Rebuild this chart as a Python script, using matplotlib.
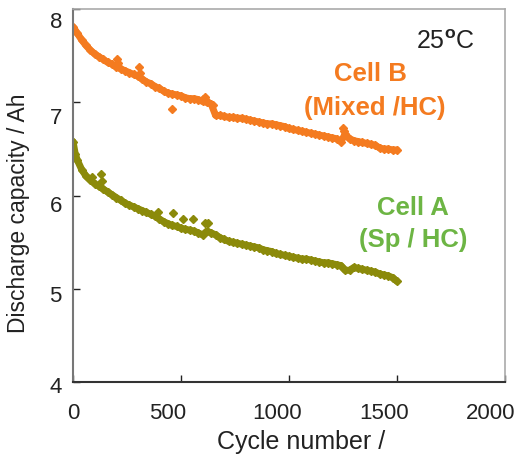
import matplotlib
matplotlib.use("Agg")
import matplotlib.pyplot as plt
import matplotlib.transforms as mtransforms

plt.rcParams['font.family'] = ['Liberation Sans', 'DejaVu Sans']
plt.rcParams['mathtext.fontset'] = 'custom'
plt.rcParams['mathtext.rm'] = 'Liberation Sans'
plt.rcParams['mathtext.bf'] = 'Liberation Sans:bold'

# ---- data ----
cycles_b = [0, 20, 40, 60, 80, 100, 120, 140, 160, 180, 200, 220, 240, 260, 280,
            300, 320, 340, 360, 380, 400, 420, 440, 460, 480, 500, 520, 540, 560,
            580, 600, 620, 640, 660, 680, 700, 720, 740, 760, 780, 800, 820, 840,
            860, 880, 900, 920, 940, 960, 980, 1000, 1020, 1040, 1060, 1080, 1100,
            1120, 1140, 1160, 1180, 1200, 1220, 1240, 1260, 1280, 1300, 1320, 1340,
            1360, 1380, 1400, 1420, 1440, 1460, 1480, 1500]
cap_b = [7.81, 7.74, 7.67, 7.61, 7.56, 7.52, 7.49, 7.46, 7.43, 7.41, 7.38, 7.36,
         7.34, 7.32, 7.30, 7.28, 7.25, 7.22, 7.20, 7.17, 7.15, 7.12, 7.10, 7.09,
         7.08, 7.07, 7.05, 7.04, 7.04, 7.03, 7.01, 7.00, 6.98, 6.86, 6.86, 6.85,
         6.84, 6.84, 6.83, 6.83, 6.82, 6.81, 6.80, 6.79, 6.78, 6.77, 6.77, 6.76,
         6.75, 6.74, 6.72, 6.71, 6.70, 6.69, 6.68, 6.67, 6.66, 6.65, 6.64, 6.63,
         6.62, 6.61, 6.58, 6.66, 6.61, 6.59, 6.58, 6.57, 6.56, 6.55, 6.54, 6.51,
         6.50, 6.50, 6.49, 6.49]
spikes_b_x = [205, 210, 305, 310, 457, 600, 611, 620, 650, 1250, 1255]
spikes_b_y = [7.47, 7.42, 7.38, 7.31, 6.93, 7.04, 7.06, 7.02, 6.97, 6.72, 6.69]

cycles_a = [0, 10, 20, 40, 60, 80, 100, 120, 140, 160, 180, 200, 220, 240, 260,
            280, 300, 320, 340, 360, 380, 400, 420, 440, 460, 480, 500, 520, 540,
            560, 580, 600, 620, 640, 660, 680, 700, 720, 740, 760, 780, 800, 820,
            840, 860, 880, 900, 920, 940, 960, 980, 1000, 1020, 1040, 1060, 1080,
            1100, 1120, 1140, 1160, 1180, 1200, 1220, 1240, 1260, 1280, 1300, 1320,
            1340, 1360, 1380, 1400, 1420, 1440, 1460, 1480, 1500]
cap_a = [6.58, 6.45, 6.38, 6.28, 6.21, 6.17, 6.13, 6.10, 6.07, 6.04, 6.01, 5.98,
         5.95, 5.92, 5.90, 5.88, 5.86, 5.84, 5.82, 5.80, 5.78, 5.75, 5.72, 5.70,
         5.68, 5.67, 5.65, 5.64, 5.63, 5.62, 5.60, 5.58, 5.62, 5.60, 5.58, 5.55,
         5.53, 5.51, 5.50, 5.49, 5.48, 5.47, 5.46, 5.45, 5.44, 5.42, 5.41, 5.40,
         5.38, 5.37, 5.36, 5.35, 5.34, 5.33, 5.32, 5.32, 5.31, 5.30, 5.29, 5.28,
         5.28, 5.27, 5.26, 5.25, 5.20, 5.20, 5.23, 5.22, 5.21, 5.20, 5.19, 5.18,
         5.16, 5.15, 5.14, 5.12, 5.08]
spikes_a_x = [90, 128, 135, 395, 461, 508, 557, 611, 626]
spikes_a_y = [6.20, 6.23, 6.16, 5.82, 5.81, 5.75, 5.75, 5.71, 5.71]

xticks = [0, 500, 1000, 1500, 2000]
yticks = [4, 5, 6, 7, 8]

orange = '#F47B20'
olive = '#8B8A0A'
green_txt = '#6DB544'
dark = '#222222'

fig = plt.figure(figsize=(5.18, 4.6), dpi=100)
ax = fig.add_axes([0.141, 0.167, 0.834, 0.811])

ms = 4.2
ax.plot(cycles_b, cap_b, linestyle='-', lw=5, color=orange, solid_capstyle='round')
ax.plot(cycles_b, cap_b, linestyle='none', marker='D', ms=ms, color=orange, mec=orange)
ax.plot(spikes_b_x, spikes_b_y, linestyle='none', marker='D', ms=ms, color=orange, mec=orange)
ax.plot(cycles_a, cap_a, linestyle='-', lw=5, color=olive, solid_capstyle='round')
ax.plot(cycles_a, cap_a, linestyle='none', marker='D', ms=ms, color=olive, mec=olive)
ax.plot(spikes_a_x, spikes_a_y, linestyle='none', marker='D', ms=ms, color=olive, mec=olive)

ax.set_xlim(0, 2000)
ax.set_ylim(4, 8)
ax.set_xticks(xticks)
ax.set_yticks(yticks)
ax.tick_params(direction='in', length=5, width=1, labelsize=16, colors=dark)
ax.tick_params(axis='x', pad=14)
ax.tick_params(axis='y', pad=8)
for s in ['top', 'right']:
    ax.spines[s].set_color('#aaaaaa')
    ax.spines[s].set_linewidth(1.2)
ax.spines['left'].set_color('#777777')
ax.spines['bottom'].set_color('#333333')
ax.spines['left'].set_linewidth(1.5)
ax.spines['bottom'].set_linewidth(1.5)

# label offsets (pixels) to mimic the reference placement
x_off = [0, -13, -12, -13, -14]
y_off = [-2, -4, -7, -13, -10]
for lab, dx in zip(ax.get_xticklabels(), x_off):
    lab.set_transform(lab.get_transform() + mtransforms.ScaledTranslation(dx / 100, 0, fig.dpi_scale_trans))
for lab, dy in zip(ax.get_yticklabels(), y_off):
    lab.set_transform(lab.get_transform() + mtransforms.ScaledTranslation(0, dy / 100, fig.dpi_scale_trans))

ax.set_xlabel('Cycle number /', fontsize=18, color=dark)
ax.xaxis.set_label_coords(0.528, -0.125)
ax.set_ylabel('Discharge capacity / Ah', fontsize=16.5, color=dark)
ax.yaxis.set_label_coords(-0.099, 0.456)

ax.text(1722, 7.66, r'25$^{\mathbf{o}}$C', fontsize=18, color=dark, ha='center', va='center')
ax.text(1375, 7.31, 'Cell B', fontsize=18.5, fontweight='bold', color=orange, ha='center', va='center')
ax.text(1398, 6.95, '(Mixed /HC)', fontsize=18.5, fontweight='bold', color=orange, ha='center', va='center')
ax.text(1574, 5.88, 'Cell A', fontsize=18.5, fontweight='bold', color=green_txt, ha='center', va='center')
ax.text(1574, 5.53, '(Sp / HC)', fontsize=18.5, fontweight='bold', color=green_txt, ha='center', va='center')

fig.savefig('out.png', dpi=100)
